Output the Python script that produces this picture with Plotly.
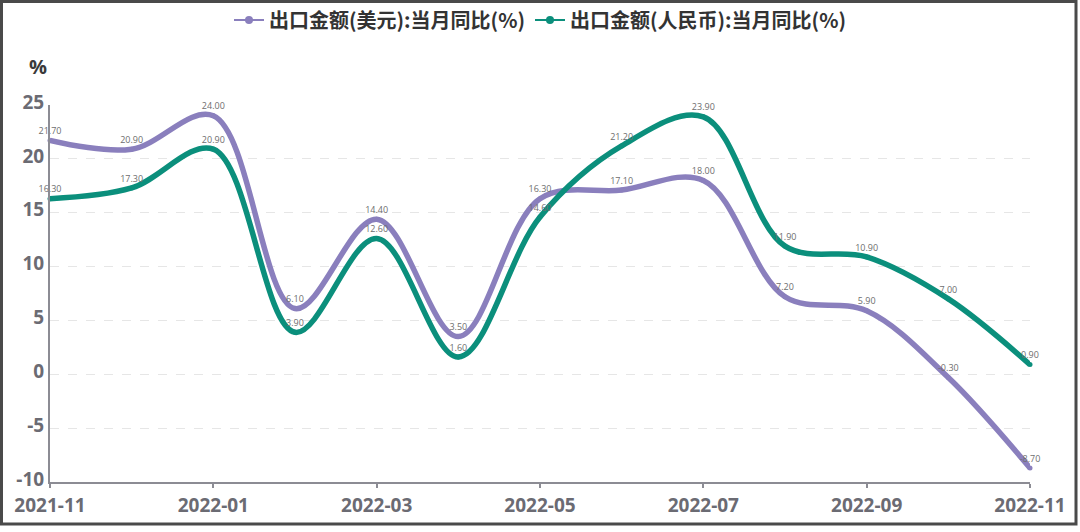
import plotly.graph_objects as go

months = ["2021-11", "2021-12", "2022-01", "2022-02", "2022-03", "2022-04", "2022-05",
          "2022-06", "2022-07", "2022-08", "2022-09", "2022-10", "2022-11"]
usd_yoy = [21.70, 20.90, 24.00, 6.10, 14.40, 3.50, 16.30, 17.10, 18.00, 7.20, 5.90, -0.30, -8.70]
rmb_yoy = [16.30, 17.30, 20.90, 3.90, 12.60, 1.60, 14.60, 21.20, 23.90, 11.90, 10.90, 7.00, 0.90]
tick_labels = ["2021-11", "2022-01", "2022-03", "2022-05", "2022-07", "2022-09", "2022-11"]
y_ticks = [-10, -5, 0, 5, 10, 15, 20, 25]
name_usd = "出口金额(美元):当月同比(%)"
name_rmb = "出口金额(人民币):当月同比(%)"

purple = "#8a7fbd"
green = "#0b8f7c"
font_family = "Open Sans, Noto Sans CJK SC, sans-serif"

fig = go.Figure()
for name, vals, col in [(name_usd, usd_yoy, purple), (name_rmb, rmb_yoy, green)]:
    fig.add_trace(go.Scatter(
        x=months, y=vals, name=name, showlegend=False,
        mode="lines+markers+text",
        line=dict(color=col, width=5.5, shape="spline", smoothing=1.0),
        marker=dict(color=col, size=5),
        text=[f"{v:.2f}" for v in vals],
        textposition="top center",
        textfont=dict(size=9, color="#6e6e6e", family=font_family),
        cliponaxis=False,
    ))
# legend entries with thin line + dot symbol
for name, col in [(name_usd, purple), (name_rmb, green)]:
    fig.add_trace(go.Scatter(
        x=[None], y=[None], name=name, mode="lines+markers",
        line=dict(color=col, width=2), marker=dict(color=col, size=8),
    ))

fig.update_layout(
    width=1080, height=532,
    margin=dict(l=50, r=50, t=105, b=50, autoexpand=False),
    paper_bgcolor="white", plot_bgcolor="white",
    font=dict(family=font_family),
    showlegend=True,
    legend=dict(orientation="h", x=0.5, xanchor="center", yref="container", y=1 - 20 / 532, yanchor="middle",
                font=dict(size=20, color="#333333", family="Noto Sans CJK SC, sans-serif", weight="bold"),
                itemwidth=30, tracegroupgap=0, bgcolor="rgba(0,0,0,0)"),
    xaxis=dict(
        type="category", tickmode="array", tickvals=tick_labels, ticktext=tick_labels,
        range=[0, len(months) - 1],
        showline=True, linecolor="#8c8c94", linewidth=2,
        ticks="outside", ticklen=4, tickwidth=2, tickcolor="#8c8c94",
        ticklabelstandoff=1,
        showgrid=False, zeroline=False,
        tickfont=dict(size=19, color="#6b6b73", family="Open Sans, sans-serif", weight="bold"),
    ),
    yaxis=dict(
        range=[-10, 25], tickmode="array", tickvals=y_ticks, ticktext=[str(v) for v in y_ticks],
        showline=True, linecolor="#8c8c94", linewidth=2,
        ticks="", showgrid=True, gridcolor="#e6e6e6", griddash="dash", gridwidth=1,
        zeroline=False, ticklabelshift=-3,
        tickfont=dict(size=19, color="#6b6b73", family="Open Sans, sans-serif", weight="bold"),
    ),
    annotations=[dict(text="%", xref="paper", yref="paper", x=-0.012, y=1.06,
                      xanchor="center", yanchor="bottom", showarrow=False,
                      font=dict(size=20, color="#3a3a3a", family="Open Sans, sans-serif", weight="bold"))],
    shapes=[dict(type="rect", xref="paper", yref="paper",
                 x0=-48.5 / 980, x1=1 + 46 / 980, y0=-42 / 377, y1=1 + 103.5 / 377,
                 line=dict(color="#4a4a4a", width=3), layer="below")],
)

fig.write_html("out.html", config={"displayModeBar": False},
               post_script="document.body.style.margin='0';document.body.style.overflow='hidden';")
